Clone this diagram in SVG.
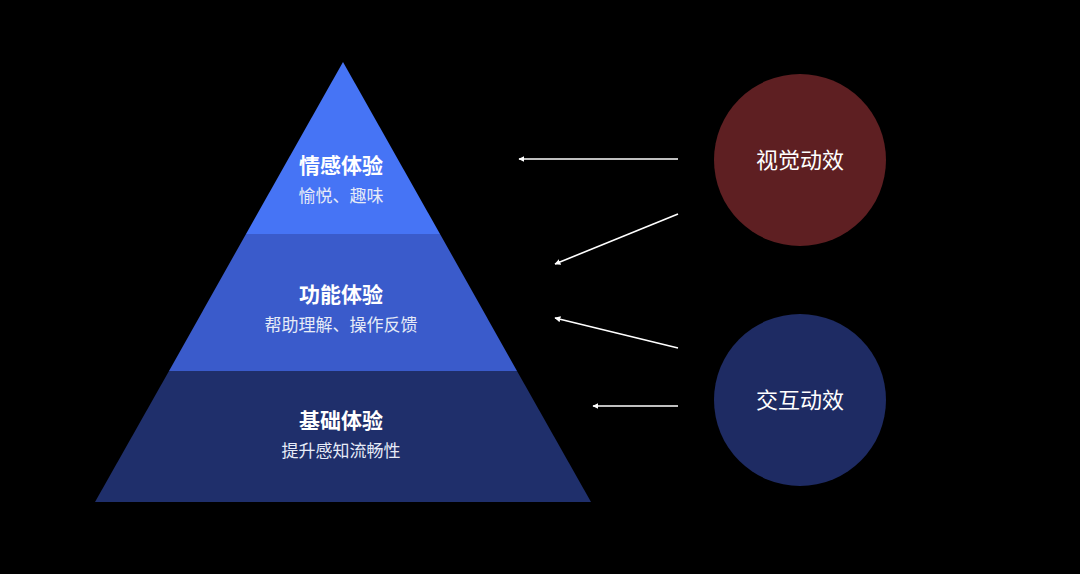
<svg xmlns="http://www.w3.org/2000/svg" width="1080" height="574" viewBox="0 0 1080 574">
<style>
.t{font-family:"Noto Sans CJK SC","Noto Sans",sans-serif;fill:#fff;text-anchor:middle}
.h{font-size:21px;font-weight:700}
.s{font-size:17px;fill:#e6ebf7}
.c{font-size:22px}
.a{stroke:#fff;stroke-width:1.6;fill:none;marker-end:url(#ah)}
</style>
<defs><marker id="ah" viewBox="0 0 10 10" refX="9" refY="5" markerWidth="6" markerHeight="6" orient="auto" markerUnits="userSpaceOnUse"><path d="M0,0 L10,5 L0,10 Z" fill="#fff"/></marker></defs>
<rect width="1080" height="574" fill="#000"/>
<g id="layer-top"><polygon points="343,62 440,234 246,234" fill="#4674F5"/>
<text class="t h" x="341" y="173">情感体验</text><text class="t s" x="341" y="202">愉悦、趣味</text></g>
<g id="layer-mid"><polygon points="246,234 440,234 517,371 169,371" fill="#3A5BCB"/>
<text class="t h" x="341" y="302">功能体验</text><text class="t s" x="341" y="331">帮助理解、操作反馈</text></g>
<g id="layer-bot"><polygon points="169,371 517,371 591,502 95,502" fill="#1F2F6B"/>
<text class="t h" x="341" y="428">基础体验</text><text class="t s" x="341" y="457">提升感知流畅性</text></g>
<g id="visual"><circle cx="800" cy="160" r="86" fill="#5E1F22"/><text class="t c" x="800" y="168">视觉动效</text></g>
<g id="interaction"><circle cx="800" cy="400" r="86" fill="#1E2B63"/><text class="t c" x="800" y="408">交互动效</text></g>
<g id="connectors">
<line class="a" x1="678" y1="159" x2="519" y2="159"/>
<line class="a" x1="678" y1="214" x2="555" y2="264"/>
<line class="a" x1="678" y1="348" x2="555" y2="318"/>
<line class="a" x1="678" y1="406" x2="593" y2="406"/>
</g>
</svg>
